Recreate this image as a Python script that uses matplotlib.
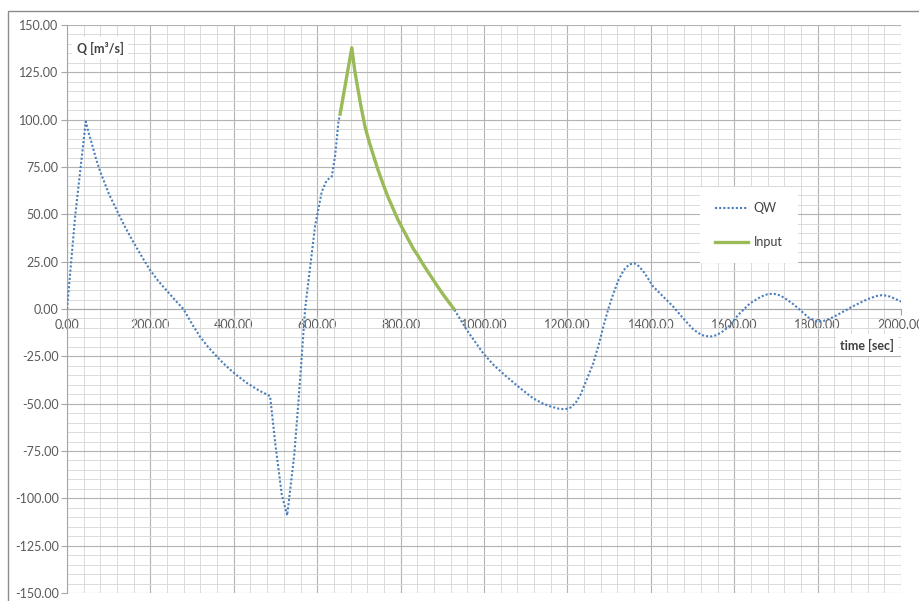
import matplotlib.pyplot as plt
import matplotlib.patches as mpatches
from matplotlib.lines import Line2D
from matplotlib.ticker import MultipleLocator, FormatStrFormatter

# discharge QW over time
qw_time = [0, 20, 45, 52, 60, 70, 79, 100, 123, 140, 160, 180, 199, 220, 240,
           260, 279, 300, 319, 340, 359, 375, 391, 410, 431, 460, 487, 500,
           515, 528, 545, 555, 563, 571, 583, 595, 603, 611, 623, 635, 643,
           651, 655, 683, 690, 697, 705, 715, 725, 735, 745, 758, 770, 782,
           794, 806, 818, 830, 842, 854, 866, 878, 890, 902, 915, 928, 960,
           998, 1025, 1054, 1085, 1118, 1140, 1160, 1180, 1194, 1208, 1220,
           1232, 1245, 1262, 1275, 1286, 1298, 1310, 1322, 1335, 1348, 1360,
           1372, 1385, 1406, 1430, 1454, 1478, 1502, 1522, 1542, 1558, 1575,
           1590, 1610, 1638, 1665, 1680, 1694, 1710, 1725, 1742, 1758, 1778,
           1798, 1812, 1825, 1840, 1854, 1885, 1918, 1940, 1954, 1968, 1985,
           2000]
qw_value = [0, 50, 99, 93, 87, 79, 73, 61, 50.5, 43, 35, 27.5, 20.6, 14.5, 9.5,
            4.5, 0, -8, -14.6, -20.5, -25, -28.7, -32, -35.5, -39, -43, -46, -72,
            -98, -109, -77, -49, -25, 0, 22, 44, 53, 62, 68, 70, 81,
            99, 103, 138, 126, 117, 107, 96, 88, 81, 74, 66, 59, 53,
            47, 42, 37, 32, 28, 23.6, 19.5, 15.5, 11.5, 7.7, 3.8, 0, -11.5,
            -23.4, -30, -35.7, -41.5, -47.2, -49.8, -51.5, -52.7, -53, -52, -49.5,
            -45, -38, -28.7, -19, -9.5, 0, 8, 15, 20.5, 23.5, 24.2,
            22.5, 19, 11.8, 6.5, 1.2, -5, -10.8, -13.8, -14.6, -13.8, -11.5,
            -8.5, -3, 3, 6.6, 7.8, 8.1, 7.2, 5.2, 2.5, -0.5, -4.5,
            -6.6, -6.5, -5.5, -4, -2.3, 1.5, 5, 6.8, 7.3, 7, 5.5,
            3.9]

# input hydrograph segment
input_time = [655, 683, 690, 697, 705, 715, 725, 735, 745, 758, 770, 782, 794,
              806, 818, 830, 842, 854, 866, 878, 890, 902, 915, 928]
input_value = [103, 138, 126, 117, 107, 96, 88, 81, 74, 66, 59, 53, 47,
               42, 37, 32, 28, 23.6, 19.5, 15.5, 11.5, 7.7, 3.8, 0]

plt.rcParams['font.family'] = ['Lato', 'DejaVu Sans']
plt.rcParams['axes.unicode_minus'] = False

fig = plt.figure(figsize=(9.19, 6.01), dpi=100)
ax = fig.add_axes([0.0729, 0.0133, 0.9075, 0.9451])

# chart area border
fig.patches.append(mpatches.Rectangle((8 / 919, -0.05), 1.0, 1 - 11.5 / 601 + 0.05,
                                      transform=fig.transFigure, fill=False,
                                      edgecolor='#8c8c8c', linewidth=1.0))

ax.plot(qw_time, qw_value, color='#4a7ebb', linewidth=1.5,
        linestyle=(0, (1, 1)), label='QW', zorder=3)
ax.plot(input_time, input_value, color='#9bbb59', linewidth=2.4,
        solid_joinstyle='round', label='Input', zorder=4)

ax.set_xlim(0, 2000)
ax.set_ylim(-150, 150)
ax.xaxis.set_major_locator(MultipleLocator(200))
ax.xaxis.set_minor_locator(MultipleLocator(40))
ax.yaxis.set_major_locator(MultipleLocator(25))
ax.yaxis.set_minor_locator(MultipleLocator(5))
ax.xaxis.set_major_formatter(FormatStrFormatter('%.2f'))
ax.yaxis.set_major_formatter(FormatStrFormatter('%.2f'))

ax.grid(which='major', color='#b3b3b3', linewidth=0.8)
ax.grid(which='minor', color='#dadada', linewidth=0.7)
ax.set_axisbelow(True)

for side in ['top', 'right']:
    ax.spines[side].set_visible(False)
ax.spines['left'].set_color('#a6a6a6')
ax.spines['bottom'].set_position(('data', 0))
ax.spines['bottom'].set_color('#a6a6a6')
ax.tick_params(which='minor', length=0)
ax.tick_params(which='major', length=4, color='#a6a6a6', labelsize=9,
               labelcolor='#595959', direction='out')
ax.tick_params(axis='y', pad=2)
ax.tick_params(axis='x', pad=3)

ax.text(0.0396, 0.9595, 'Q [m³/s]', transform=ax.transAxes, fontsize=9,
        fontweight='bold', color='#404040', ha='center', va='center',
        bbox=dict(facecolor='white', edgecolor='none', pad=3))
ax.text(0.959, 0.4366, 'time [sec]', transform=ax.transAxes, fontsize=9,
        fontweight='bold', color='#404040', ha='center', va='center',
        bbox=dict(facecolor='white', edgecolor='none', pad=3))

handles = [Line2D([], [], color='#4a7ebb', linewidth=1.5, linestyle=(0, (1, 1))),
           Line2D([], [], color='#9bbb59', linewidth=2.4)]
leg = ax.legend(handles, ['QW', 'Input'], loc='upper left',
                bbox_to_anchor=(700 / 919, 1 - 187 / 601),
                bbox_transform=fig.transFigure, frameon=True, fancybox=False,
                facecolor='white', edgecolor='none', framealpha=1, fontsize=9,
                handlelength=2.6, labelspacing=1.8, borderpad=1.2,
                handletextpad=0.5, borderaxespad=0)
for t in leg.get_texts():
    t.set_color('#404040')

fig.savefig('out.png', dpi=100)
